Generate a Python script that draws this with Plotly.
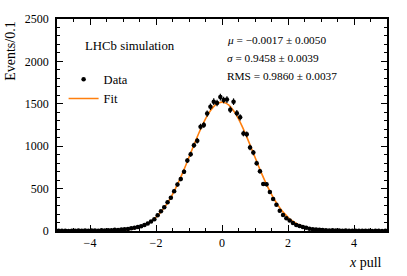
import numpy as np
import plotly.graph_objects as go

# Bin centres (bin width 0.1 from -5 to 5)
bin_centers = [round(-4.95 + 0.1 * i, 2) for i in range(100)]
counts = [
    3, 2, 4, 1, 3, 2, 5, 3, 6, 4,
    5, 7, 4, 8, 6, 10, 9, 14, 12, 18,
    21, 24, 31, 38, 46, 55, 70, 88, 112, 140,
    185, 232, 280, 338, 392, 470, 548, 612, 700, 830,
    905, 1010, 1065, 1230, 1250, 1385, 1465, 1525, 1510, 1580,
    1545, 1550, 1430, 1525, 1390, 1340, 1150, 1140, 985, 925,
    800, 705, 555, 550, 460, 378, 310, 240, 190, 150,
    125, 95, 72, 58, 46, 38, 28, 22, 17, 14,
    11, 9, 7, 8, 5, 6, 4, 5, 3, 4,
    3, 2, 4, 2, 3, 1, 2, 3, 1, 2,
]
count_errors = [float(np.sqrt(c)) for c in counts]
bin_half_width = [0.05] * 100

# Fit curve sampled every 0.1 from -5 to 5
fit_x = [round(-5 + 0.1 * i, 2) for i in range(101)]
fit_y = [
    0, 0, 0, 0, 0, 0, 0, 0, 0, 0,
    0.2, 0.3, 0.5, 0.7, 1.1, 1.6, 2.4, 3.5, 5, 7,
    10, 14, 19, 26, 35, 46, 61, 79, 102, 129,
    162, 202, 248, 302, 363, 432, 508, 591, 680, 773,
    869, 967, 1063, 1156, 1243, 1322, 1390, 1445, 1486, 1511,
    1520,
    1511, 1486, 1445, 1390, 1322, 1243, 1156, 1063, 967, 869,
    773, 680, 591, 508, 432, 363, 302, 248, 202, 162,
    129, 102, 79, 61, 46, 35, 26, 19, 14, 10,
    7, 5, 3.5, 2.4, 1.6, 1.1, 0.7, 0.5, 0.3, 0.2,
    0, 0, 0, 0, 0, 0, 0, 0, 0, 0,
]

stats_lines = [
    "<i>μ</i> = −0.0017 ± 0.0050",
    "<i>σ</i> = 0.9458 ± 0.0039",
    "RMS = 0.9860 ± 0.0037",
]

FONT = "Liberation Serif"
ORANGE = "#ff7f0e"

fig = go.Figure()
fig.add_trace(go.Scatter(
    x=fit_x, y=fit_y, mode="lines", name="Fit",
    line=dict(color=ORANGE, width=1.6, shape="spline"),
    legendrank=2,
))
fig.add_trace(go.Scatter(
    x=bin_centers, y=counts, mode="markers", name="Data",
    marker=dict(color="black", size=4.5),
    error_y=dict(type="data", array=count_errors, color="black", thickness=1.2, width=0),
    error_x=dict(type="data", array=bin_half_width, color="black", thickness=1.2, width=0),
    legendrank=1,
))

axis_common = dict(
    showline=True, linecolor="black", linewidth=1.5, mirror="ticks",
    ticks="inside", tickcolor="black", tickwidth=1.2, ticklen=6,
    showgrid=False, zeroline=False,
    tickfont=dict(family=FONT, size=12, color="black"),
)
fig.update_xaxes(
    range=[-5, 5], tickvals=[-4, -2, 0, 2, 4],
    minor=dict(dtick=0.5, ticks="inside", ticklen=3, tickcolor="black", tickwidth=1),
    **axis_common,
)
fig.update_yaxes(
    range=[0, 2500], dtick=500,
    minor=dict(dtick=100, ticks="inside", ticklen=3, tickcolor="black", tickwidth=1),
    ticklabelstandoff=4,
    **axis_common,
)

annotations = [
    dict(text="Events/0.1", xref="paper", yref="paper", x=-0.143, y=1.0,
         xanchor="center", yanchor="top", textangle=-90, showarrow=False,
         font=dict(family=FONT, size=14, color="black")),
    dict(text="<i>x</i> pull", xref="paper", yref="paper", x=0.99, y=-0.105,
         xanchor="right", yanchor="top", showarrow=False,
         font=dict(family=FONT, size=14, color="black")),
    dict(text="LHCb simulation", xref="paper", yref="paper", x=0.08, y=0.875,
         xanchor="left", yanchor="middle", showarrow=False,
         font=dict(family=FONT, size=12.8, color="black")),
]
stats_y = [0.903, 0.817, 0.731]
for line, yy in zip(stats_lines, stats_y):
    annotations.append(dict(
        text=line, xref="paper", yref="paper", x=0.51, y=yy,
        xanchor="left", yanchor="middle", showarrow=False,
        font=dict(family=FONT, size=11.3, color="black")))

fig.update_layout(
    width=407, height=276,
    margin=dict(l=57, r=20, t=15, b=45),
    paper_bgcolor="white", plot_bgcolor="white",
    showlegend=True,
    legend=dict(x=0.02, y=0.785, xanchor="left", yanchor="top",
                bgcolor="rgba(0,0,0,0)", font=dict(family=FONT, size=12.5, color="black"),
                itemwidth=30, tracegroupgap=2),
    annotations=annotations,
)

fig.write_html("out.html", config={"displayModeBar": False},
               post_script="document.body.style.margin='0';")
